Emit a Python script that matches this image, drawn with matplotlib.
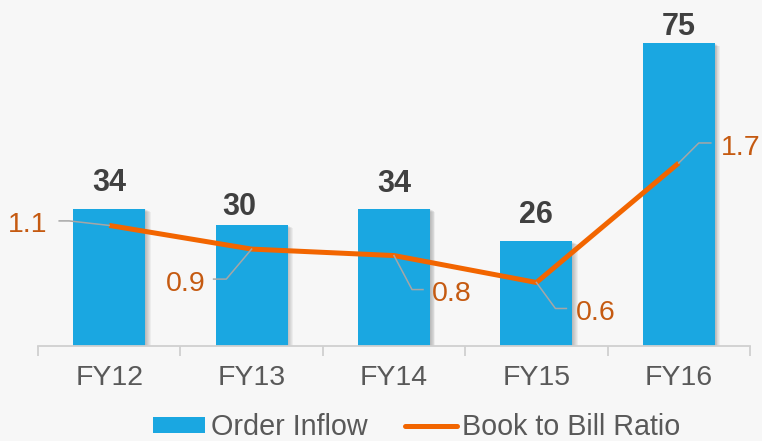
import matplotlib
matplotlib.use('Agg')
import matplotlib.pyplot as plt
from matplotlib.transforms import offset_copy, Affine2D
from matplotlib.patches import Patch
from matplotlib.lines import Line2D

# ---- data ----
categories = ['FY12', 'FY13', 'FY14', 'FY15', 'FY16']
order_inflow = [34, 30, 34, 26, 75]
book_to_bill = [1.12, 0.90, 0.84, 0.59, 1.70]

# ---- layout (pixels) ----
value_label_dx = [0, -12, 0, 0, 0]
value_label_gap = [18, 10, 17, 18, 8]
# ratio label leader points (relative to line point, y up) and text anchor
ratio_leaders = [
    [(-40, 4.5), (-50, 4.5)],
    [(-25.3, -30), (-38, -30)],
    [(18, -34), (29, -34)],
    [(19, -26), (30, -26)],
    [(20, 20), (32, 20)],
]
ratio_text = [(-62, -6.5, 'right'), (-46, -41.7, 'right'), (38, -45, 'left'),
              (39, -37.2, 'left'), (42, 8.2, 'left')]

plt.rcParams['font.family'] = ['Liberation Sans', 'DejaVu Sans']

BG = '#F7F7F7'
BAR = '#1AA7E1'
LINE = '#F26500'
LBL = '#C55A11'

W, H = 762, 441
fig = plt.figure(figsize=(W / 100, H / 100), dpi=100, facecolor=BG)
ax = fig.add_axes([38 / W, 95 / H, 712 / W, 323 / H])
ax.set_facecolor('none')
xs = list(range(len(categories)))

# bar shadows
for k in range(1, 7):
    tr = offset_copy(ax.transData, fig=fig, x=k * 0.9, y=-k * 0.5, units='dots')
    ax.bar(xs, order_inflow, width=0.505, color='black', alpha=0.045,
           transform=tr, zorder=1, linewidth=0)
ax.bar(xs, order_inflow, width=0.505, color=BAR, zorder=2, linewidth=0)

ax.set_xlim(-0.5, len(categories) - 0.5)
ax.set_ylim(0, 80)
ax.set_yticks([])
for s in ['top', 'right', 'left']:
    ax.spines[s].set_visible(False)
ax.spines['bottom'].set_color('#D0D0D0')
ax.spines['bottom'].set_linewidth(1.3)
ax.set_xticks([i - 0.5 for i in range(len(categories) + 1)], minor=False)
ax.set_xticklabels([])
ax.tick_params(axis='x', which='major', length=7, width=1.3, color='#D0D0D0', direction='out')
ax.set_xticks(xs, minor=True)
ax.set_xticklabels(categories, minor=True)
ax.tick_params(axis='x', which='minor', length=0, labelsize=20.5, labelcolor='#595959', pad=14)

for i, v in enumerate(order_inflow):
    ax.annotate(str(v), (i, v), xytext=(value_label_dx[i] * 0.72, value_label_gap[i] * 0.72),
                textcoords='offset points', ha='center', va='baseline',
                fontsize=22, fontweight='bold', color='#404040', zorder=5)

ax2 = ax.twinx()
ax2.set_ylim(0, 3)
ax2.set_xlim(-0.5, len(categories) - 0.5)
ax2.axis('off')
ax2.plot(xs, book_to_bill, color=LINE, linewidth=3.6, solid_capstyle='butt',
         solid_joinstyle='round', zorder=4)

for i, r in enumerate(book_to_bill):
    px, py = ax2.transData.transform((i, r))
    pts = [(0, 0)] + ratio_leaders[i]
    ln = Line2D([p[0] for p in pts], [p[1] for p in pts], color='#A6A6A6', linewidth=1.1,
                transform=Affine2D().translate(px, py))
    fig.add_artist(ln)
    dx, dy, ha = ratio_text[i]
    ax2.annotate(f'{r:.1f}', (i, r), xytext=(dx * 0.72, dy * 0.72), textcoords='offset points',
                 ha=ha, va='baseline', fontsize=20.5, color=LBL)

handles = [Patch(facecolor=BAR, edgecolor='none'),
           Line2D([0], [0], color=LINE, linewidth=3.6, solid_capstyle='round')]
fig.legend(handles, ['Order Inflow', 'Book to Bill Ratio'], loc='center',
           bbox_to_anchor=(417 / W, 14 / H), ncol=2, frameon=False, fontsize=20.7,
           labelcolor='#595959', handlelength=1.8, handleheight=0.49, handletextpad=0.2,
           columnspacing=1.3)

fig.savefig('out.png', dpi=100, facecolor=BG)
